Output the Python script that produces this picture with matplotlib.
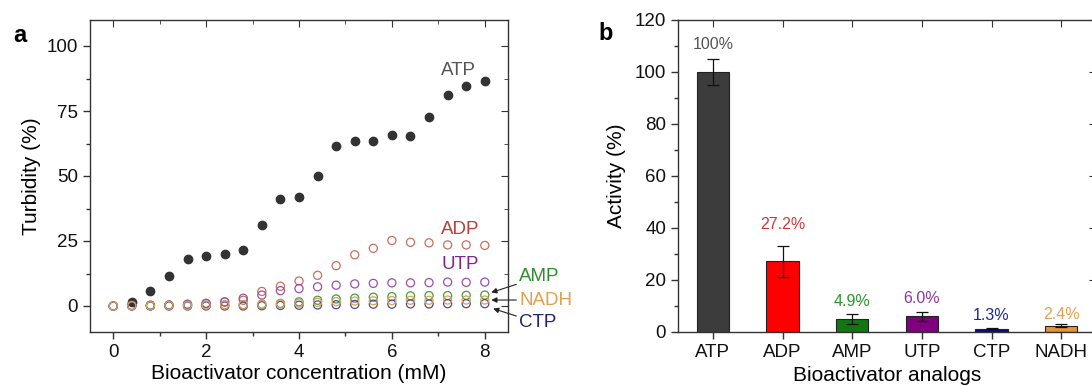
import numpy as np
import matplotlib
matplotlib.use("Agg")
import matplotlib.pyplot as plt
from matplotlib.ticker import MultipleLocator, FixedLocator

plt.rcParams['font.family'] = ['Liberation Sans', 'DejaVu Sans']

# ---------------- data: panel a ----------------
conc = [0, 0.4, 0.8, 1.2, 1.6, 2.0, 2.4, 2.8, 3.2, 3.6, 4.0, 4.4, 4.8, 5.2, 5.6,
        6.0, 6.4, 6.8, 7.2, 7.6, 8.0]
atp_conc = conc[1:]
atp_turb = [1.5, 5.8, 11.6, 18.0, 19.3, 20.0, 21.4, 31.2, 41.2, 42.0, 50.1, 61.4,
            63.3, 63.5, 65.6, 65.3, 72.8, 81.3, 84.6, 86.4]
adp_turb = [0, 0.2, 0.3, 0.4, 0.7, 1.0, 1.5, 2.2, 5.6, 7.6, 9.6, 11.8, 15.5, 19.7,
            22.2, 25.2, 24.5, 24.3, 23.5, 23.5, 23.3]
utp_turb = [0, 0.2, 0.3, 0.4, 0.6, 1.0, 1.6, 3.0, 4.2, 5.9, 6.7, 7.4, 8.0, 8.5,
            8.7, 8.9, 8.9, 9.0, 9.2, 9.1, 9.2]
amp_turb = [0, 0.1, 0.1, 0.2, 0.2, 0.3, 0.4, 0.5, 0.7, 1.0, 1.6, 2.2, 2.7, 3.0,
            3.4, 3.6, 3.9, 4.0, 4.0, 4.1, 4.2]
nadh_turb = [0, 0.1, 0.1, 0.2, 0.2, 0.3, 0.4, 0.5, 0.6, 0.8, 1.1, 1.4, 1.7, 1.9,
             2.0, 2.1, 2.2, 2.2, 2.3, 2.3, 2.3]
ctp_turb = [0, 0, 0, 0, 0, 0, 0, 0, 0.1, 0.2, 0.3, 0.4, 0.5, 0.6, 0.7, 0.7, 0.8,
            0.8, 0.9, 0.9, 0.9]

# ---------------- data: panel b ----------------
analogs = ['ATP', 'ADP', 'AMP', 'UTP', 'CTP', 'NADH']
activity = [100, 27.2, 4.9, 6.0, 1.3, 2.4]
activity_err = [5.0, 6.0, 1.9, 1.6, 0.3, 0.5]
activity_labels = ['100%', '27.2%', '4.9%', '6.0%', '1.3%', '2.4%']

# ---------------- styles ----------------
bar_colors = ['#3c3c3c', '#ff0000', '#117711', '#800080', '#0a0a80', '#e8923a']
lab_colors = ['#555555', '#c83a3a', '#2a962a', '#8a3a9a', '#1a2a8a', '#e8a050']
spine_col = '#333333'

fig = plt.figure(figsize=(10.92, 3.86), dpi=100)
W, H = 1092, 386


def frac(l, r, t, b):
    return [l / W, 1 - b / H, (r - l) / W, (b - t) / H]


def style_axes(ax):
    for s in ax.spines.values():
        s.set_color(spine_col)
        s.set_linewidth(1.0)
    ax.tick_params(which='both', direction='out', colors=spine_col,
                   labelcolor='#111111', labelsize=13.5, width=1.0)
    ax.tick_params(which='major', length=5)
    ax.tick_params(which='minor', length=3)


# ================= panel a =================
ax1 = fig.add_axes(frac(90, 508, 20, 332))
style_axes(ax1)
ax1.scatter(atp_conc, atp_turb, s=36, color='#333333', zorder=2)
series = [(adp_turb, '#c8705e'), (utp_turb, '#9950b0'), (amp_turb, '#4a9a4a'),
          (ctp_turb, '#4a4aa0'), (nadh_turb, '#e0a048')]
for vals, col in series:
    ax1.scatter(conc, vals, s=34, facecolors='none', edgecolors=col,
                linewidths=0.9, zorder=3)
ax1.set_xlim(-0.5, 8.5)
ax1.set_ylim(-10, 110)
ax1.xaxis.set_major_locator(MultipleLocator(2))
ax1.xaxis.set_minor_locator(MultipleLocator(1))
ax1.yaxis.set_major_locator(FixedLocator([0, 25, 50, 75, 100]))
ax1.yaxis.set_minor_locator(FixedLocator([12.5, 37.5, 62.5, 87.5]))
ax1.set_xlabel('Bioactivator concentration (mM)', fontsize=15, labelpad=2)
ax1.set_ylabel('Turbidity (%)', fontsize=15, labelpad=4)
sx = ax1.secondary_xaxis('top')
sx.xaxis.set_major_locator(MultipleLocator(2))
sx.xaxis.set_minor_locator(MultipleLocator(1))
sx.tick_params(which='both', direction='in', labeltop=False, colors=spine_col)
sx.tick_params(which='major', length=5)
sx.tick_params(which='minor', length=3)
sy = ax1.secondary_yaxis('right')
sy.yaxis.set_major_locator(FixedLocator([0, 25, 50, 75, 100]))
sy.yaxis.set_minor_locator(FixedLocator([12.5, 37.5, 62.5, 87.5]))
sy.tick_params(which='both', direction='in', labelright=False, colors=spine_col)
sy.tick_params(which='major', length=5)
sy.tick_params(which='minor', length=3)
for s in list(sx.spines.values()) + list(sy.spines.values()):
    s.set_visible(False)

ax1.text(7.43, 90.5, 'ATP', color='#555555', fontsize=13.5, ha='center', va='center')
ax1.text(7.48, 29.6, 'ADP', color='#b5413a', fontsize=13.5, ha='center', va='center')
ax1.text(7.47, 15.8, 'UTP', color='#7a2a8a', fontsize=13.5, ha='center', va='center')
arrowp = dict(arrowstyle='-|>', color='#222222', lw=0.8, mutation_scale=8,
              shrinkA=0, shrinkB=0)
ax1.annotate('AMP', xy=(8.14, 5.2), xytext=(8.74, 11.2), color='#2e8b2e',
             fontsize=13.5, va='center', ha='left', arrowprops=arrowp,
             annotation_clip=False)
ax1.annotate('NADH', xy=(8.14, 2.3), xytext=(8.74, 2.3), color='#e0a050',
             fontsize=13.5, va='center', ha='left', arrowprops=arrowp,
             annotation_clip=False)
ax1.annotate('CTP', xy=(8.18, -1.0), xytext=(8.74, -6.5), color='#22227a',
             fontsize=13.5, va='center', ha='left', arrowprops=arrowp,
             annotation_clip=False)
fig.text(13 / W, 1 - 36 / H, 'a', fontsize=17, fontweight='bold', va='center')

# ================= panel b =================
ax2 = fig.add_axes(frac(678, 1096, 20, 332))
style_axes(ax2)
xpos = np.arange(len(analogs))
ax2.bar(xpos, activity, width=0.46, color=bar_colors, edgecolor='#222222',
        linewidth=0.8, zorder=2)
ax2.errorbar(xpos, activity, yerr=activity_err, fmt='none', ecolor='#111111',
             elinewidth=0.9, capsize=4, capthick=0.9, zorder=3)
label_gap = [5.5, 8.3, 4.9, 5.1, 4.6, 4.0]
for i, (v, e, t, c) in enumerate(zip(activity, activity_err, activity_labels, lab_colors)):
    ax2.text(xpos[i], v + e + label_gap[i], t, color=c, fontsize=11.5,
             ha='center', va='center')
ax2.set_xlim(-0.5, 5.5)
ax2.set_ylim(0, 120)
ax2.set_xticks(xpos)
ax2.set_xticklabels(analogs)
ax2.yaxis.set_major_locator(MultipleLocator(20))
ax2.yaxis.set_minor_locator(MultipleLocator(10))
ax2.set_xlabel('Bioactivator analogs', fontsize=15, labelpad=4)
ax2.set_ylabel('Activity (%)', fontsize=15, labelpad=6)
sx2 = ax2.secondary_xaxis('top')
sx2.set_xticks(xpos)
sx2.tick_params(which='both', direction='in', labeltop=False, colors=spine_col, length=5)
sy2 = ax2.secondary_yaxis('right')
sy2.yaxis.set_major_locator(MultipleLocator(20))
sy2.yaxis.set_minor_locator(MultipleLocator(10))
sy2.tick_params(which='both', direction='in', labelright=False, colors=spine_col)
sy2.tick_params(which='major', length=5)
sy2.tick_params(which='minor', length=3)
for s in list(sx2.spines.values()) + list(sy2.spines.values()):
    s.set_visible(False)
fig.text(598 / W, 1 - 34 / H, 'b', fontsize=17, fontweight='bold', va='center')

fig.savefig('out.png', dpi=100, facecolor='white')
